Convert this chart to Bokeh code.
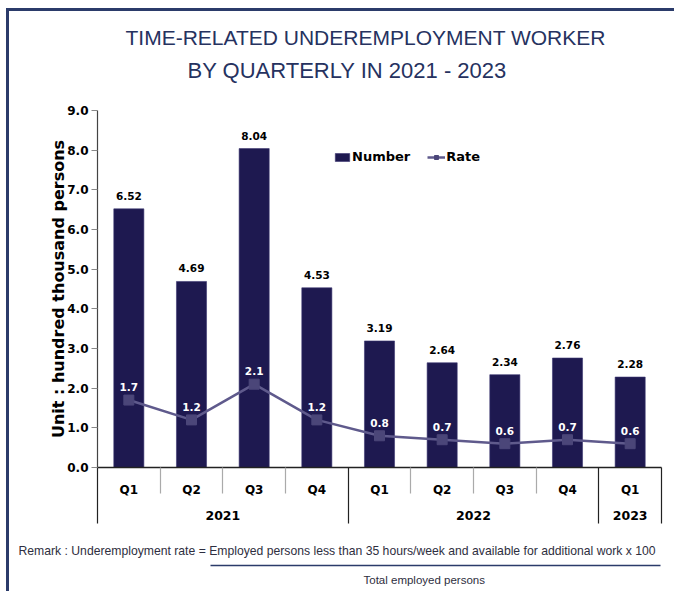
from bokeh.plotting import figure
from bokeh.models import (ColumnDataSource, LinearAxis, FixedTicker, Range1d, Title,
                          LabelSet, Legend, LegendItem, PrintfTickFormatter)
from bokeh.core.properties import value
from bokeh.embed import file_html
from bokeh.resources import INLINE

# ---- data ----
quarters = ["Q1", "Q2", "Q3", "Q4", "Q1", "Q2", "Q3", "Q4", "Q1"]
years_of = ["2021", "2021", "2021", "2021", "2022", "2022", "2022", "2022", "2023"]
years = ["2021", "2022", "2023"]
number = [6.52, 4.69, 8.04, 4.53, 3.19, 2.64, 2.34, 2.76, 2.28]
rate = [1.7, 1.2, 2.1, 1.2, 0.8, 0.7, 0.6, 0.7, 0.6]
y_ticks = [0, 1, 2, 3, 4, 5, 6, 7, 8, 9]

# ---- styles ----
BAR = "#1e1950"
LINE = "#5f5a8c"
MARK = "#4b4679"
NAVY = "#26325f"
BORDER = "#2b3b6a"
LBL_FONT = "DejaVu Sans"
TITLE_FONT = "Liberation Sans"

n = len(quarters)
xs = [i + 0.5 for i in range(n)]
src = ColumnDataSource(dict(
    x=xs, number=number, rate=rate,
    ntxt=["%.2f" % v for v in number],
    rtxt=["%.1f" % v for v in rate],
))

year_centers, year_bounds = [], [0]
for y in years:
    idx = [i for i, yy in enumerate(years_of) if yy == y]
    year_centers.append((idx[0] + idx[-1] + 1) / 2)
    year_bounds.append(idx[-1] + 1)
inner_bounds = [b for b in range(1, n) if b not in year_bounds]

p = figure(width=668, height=583, x_range=Range1d(0, n), y_range=Range1d(0, 9),
           output_backend="svg", toolbar_location=None, x_axis_location=None,
           min_border_left=88, min_border_right=16, min_border_top=99,
           min_border_bottom=127)
p.styles = {"margin-left": "6px", "margin-top": "8px",
            "border-left": "3px solid " + BORDER, "border-top": "3px solid " + BORDER}
p.outline_line_color = None
p.grid.visible = False

bars = p.vbar(x="x", top="number", width=0.48, fill_color=BAR, line_color="#3a3570",
              line_width=0.6, source=src)
line = p.line(x="x", y="rate", line_color=LINE, line_width=2.5, source=src)
marks = p.scatter(x="x", y="rate", marker="square", size=10, fill_color=MARK,
                  line_color=MARK, source=src)

p.add_layout(LabelSet(x="x", y="number", text="ntxt", source=src, y_offset=9,
                      text_align="center", text_baseline="bottom",
                      text_font=value(LBL_FONT), text_font_style="bold",
                      text_font_size="10.5px", text_color="black"))
p.add_layout(LabelSet(x="x", y="rate", text="rtxt", source=src, y_offset=9,
                      text_align="center", text_baseline="bottom",
                      text_font=value(LBL_FONT), text_font_style="bold",
                      text_font_size="10.5px", text_color="white"))

# y axis
ya = p.yaxis[0]
ya.ticker = FixedTicker(ticks=y_ticks, minor_ticks=[])
ya.formatter = PrintfTickFormatter(format="%.1f")
ya.major_label_text_font = LBL_FONT
ya.major_label_text_font_style = "bold"
ya.major_label_text_font_size = "12px"
ya.major_label_text_color = "black"
ya.major_tick_in = 0
ya.major_tick_out = 6
ya.major_tick_line_color = "#888888"
ya.axis_line_color = "#444444"
ya.axis_line_width = 1.2
ya.major_label_standoff = 3
ya.axis_label = "Unit : hundred thousand persons"
ya.axis_label_text_font = LBL_FONT
ya.axis_label_text_font_style = "bold"
ya.axis_label_text_font_size = "16px"
ya.axis_label_text_color = "black"
ya.axis_label_standoff = -4

# x axis: quarters
qa = LinearAxis(ticker=FixedTicker(ticks=xs, minor_ticks=inner_bounds),
                major_label_overrides={x: q for x, q in zip(xs, quarters)})
qa.major_tick_in = 0
qa.major_tick_out = 0
qa.minor_tick_in = 0
qa.minor_tick_out = 26
qa.minor_tick_line_color = "#aaaaaa"
qa.minor_tick_line_width = 1.2
qa.axis_line_color = "#222222"
qa.axis_line_width = 1.5
qa.major_label_standoff = -11
qa.major_label_text_font = LBL_FONT
qa.major_label_text_font_style = "bold"
qa.major_label_text_font_size = "12px"
qa.major_label_text_color = "black"
p.add_layout(qa, "below")

# x axis: years
ya2 = LinearAxis(ticker=FixedTicker(ticks=year_centers, minor_ticks=year_bounds),
                 major_label_overrides={c: y for c, y in zip(year_centers, years)})
ya2.axis_line_color = None
ya2.major_tick_in = 0
ya2.major_tick_out = 0
ya2.minor_tick_in = 32
ya2.minor_tick_out = 24
ya2.minor_tick_line_color = "#222222"
ya2.minor_tick_line_width = 1.2
ya2.major_label_standoff = -13
ya2.major_label_text_font = LBL_FONT
ya2.major_label_text_font_style = "bold"
ya2.major_label_text_font_size = "12.5px"
ya2.major_label_text_color = "black"
p.add_layout(ya2, "below")

def spacer(side, gap):
    p.add_layout(Title(text=" ", text_font_size="1px", standoff=gap), side)

# remark
spacer("below", 8)
p.add_layout(Title(text="Remark : Underemployment rate = Employed persons less than 35 hours/week and available for additional work  x 100",
                   align="left", offset=-79, standoff=16, text_font=TITLE_FONT,
                   text_font_size="12.2px", text_font_style="normal",
                   text_color="#2e2e40"), "below")
ua = LinearAxis(ticker=FixedTicker(ticks=[]), bounds=(1.8, 8.98),
                axis_line_color=BORDER, axis_line_width=1.3,
                major_tick_line_color=None, minor_tick_line_color=None,
                major_label_text_font_size="0px")
p.add_layout(ua, "below")
p.add_layout(Title(text="Total employed persons", align="left", offset=266,
                   standoff=12, text_font=TITLE_FONT, text_font_size="11.5px",
                   text_font_style="normal", text_color="#2e2e40"), "below")

# titles (first added is closest to the plot)
spacer("above", 20)
p.add_layout(Title(text="BY QUARTERLY IN 2021 - 2023", align="left", offset=90,
                   standoff=10, text_font=TITLE_FONT, text_font_size="22px",
                   text_font_style="normal", text_color=NAVY), "above")
p.add_layout(Title(text="TIME-RELATED UNDEREMPLOYMENT WORKER", align="left",
                   offset=28, standoff=4, text_font=TITLE_FONT,
                   text_font_size="21px", text_font_style="normal",
                   text_color=NAVY), "above")

legend = Legend(items=[LegendItem(label="Number", renderers=[bars]),
                       LegendItem(label="Rate", renderers=[line, marks])],
                location=(236, 303), orientation="horizontal",
                background_fill_alpha=0, border_line_color=None,
                label_text_font=LBL_FONT, label_text_font_style="bold",
                label_text_font_size="13px", label_text_color="black",
                glyph_width=18, glyph_height=10, spacing=17, padding=0,
                margin=0, label_standoff=1)
p.add_layout(legend)

open("out.html", "w").write(file_html(p, INLINE))
